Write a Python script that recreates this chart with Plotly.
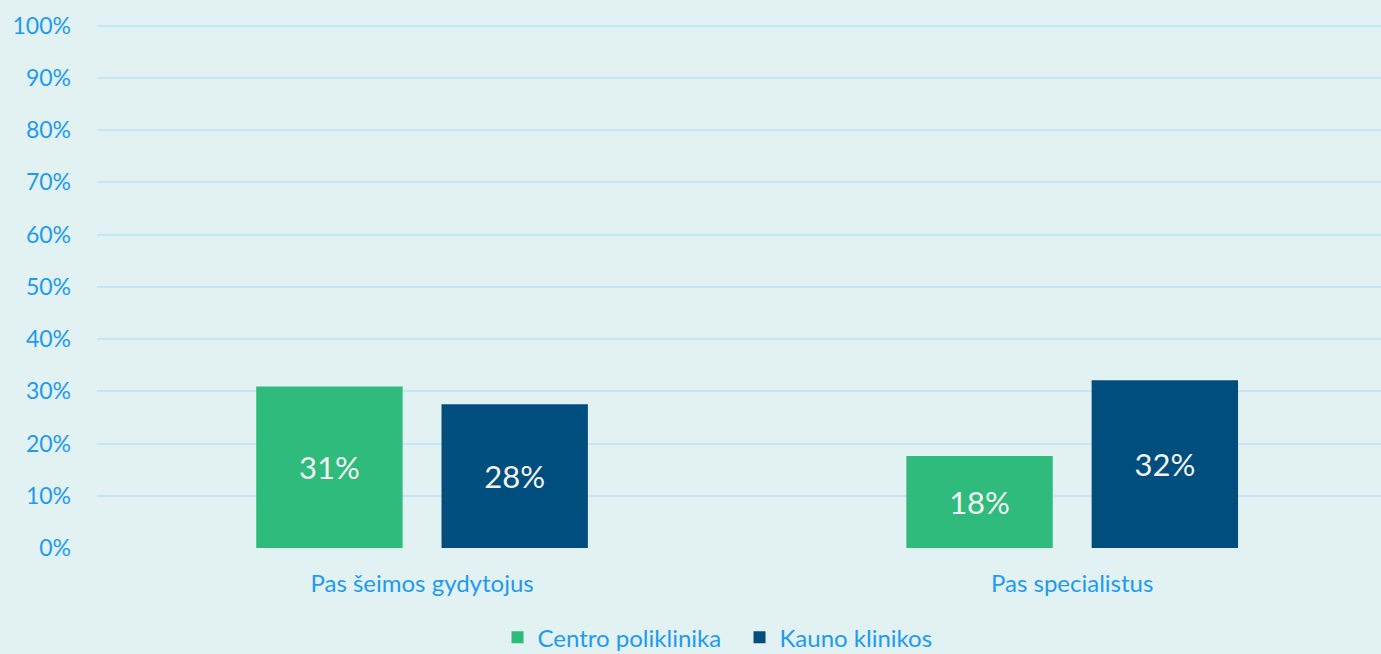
import plotly.graph_objects as go

categories = ["Pas šeimos gydytojus", "Pas specialistus"]
series_names = ["Centro poliklinika", "Kauno klinikos"]
centro = [30.9, 17.6]
kauno = [27.5, 32.1]
y_ticks = list(range(0, 101, 10))
y_tick_labels = [f"{v}%" for v in y_ticks]

colors = ["#2EBB7C", "#004E7E"]
font_family = "Lato, 'Open Sans', sans-serif"
tick_color = "#1E9BF0"

fig = go.Figure()
for name, vals, col in zip(series_names, [centro, kauno], colors):
    fig.add_trace(go.Bar(
        x=categories, y=vals, name=name,
        marker=dict(color=col, line=dict(width=0)),
        texttemplate="%{y:.0f}%", textposition="inside",
        insidetextanchor="middle",
        textfont=dict(color="#F2F2F2", size=31, family=font_family),
    ))

fig.update_layout(
    width=1381, height=654,
    paper_bgcolor="#E2F1F2", plot_bgcolor="#E2F1F2",
    margin=dict(l=97, r=0, t=24, b=106, autoexpand=False),
    barmode="group", bargap=0.43, bargroupgap=0.21,
    font=dict(family=font_family, color=tick_color, size=24),
    legend=dict(orientation="h", x=0.5355, xref="container", xanchor="center",
                y=0.025, yref="container", yanchor="middle",
                entrywidth=197, entrywidthmode="pixels",
                font=dict(size=24, color=tick_color), itemwidth=30, bgcolor="rgba(0,0,0,0)"),
    showlegend=True,
)
fig.update_yaxes(range=[0, 100.3], tickvals=y_ticks, ticktext=y_tick_labels,
                 gridcolor="#C5E5F8", gridwidth=2, zeroline=False, showline=False,
                 automargin=False,
                 ticklabelstandoff=25, tickfont=dict(size=23, color=tick_color))
fig.update_xaxes(range=[-0.5, 1.475], showgrid=False, showline=False, automargin=False,
                 ticks="", ticklabelstandoff=19, tickfont=dict(size=24, color=tick_color))

fig.write_html("out.html", config={"displayModeBar": False},
               post_script="document.body.style.margin='0px';")
